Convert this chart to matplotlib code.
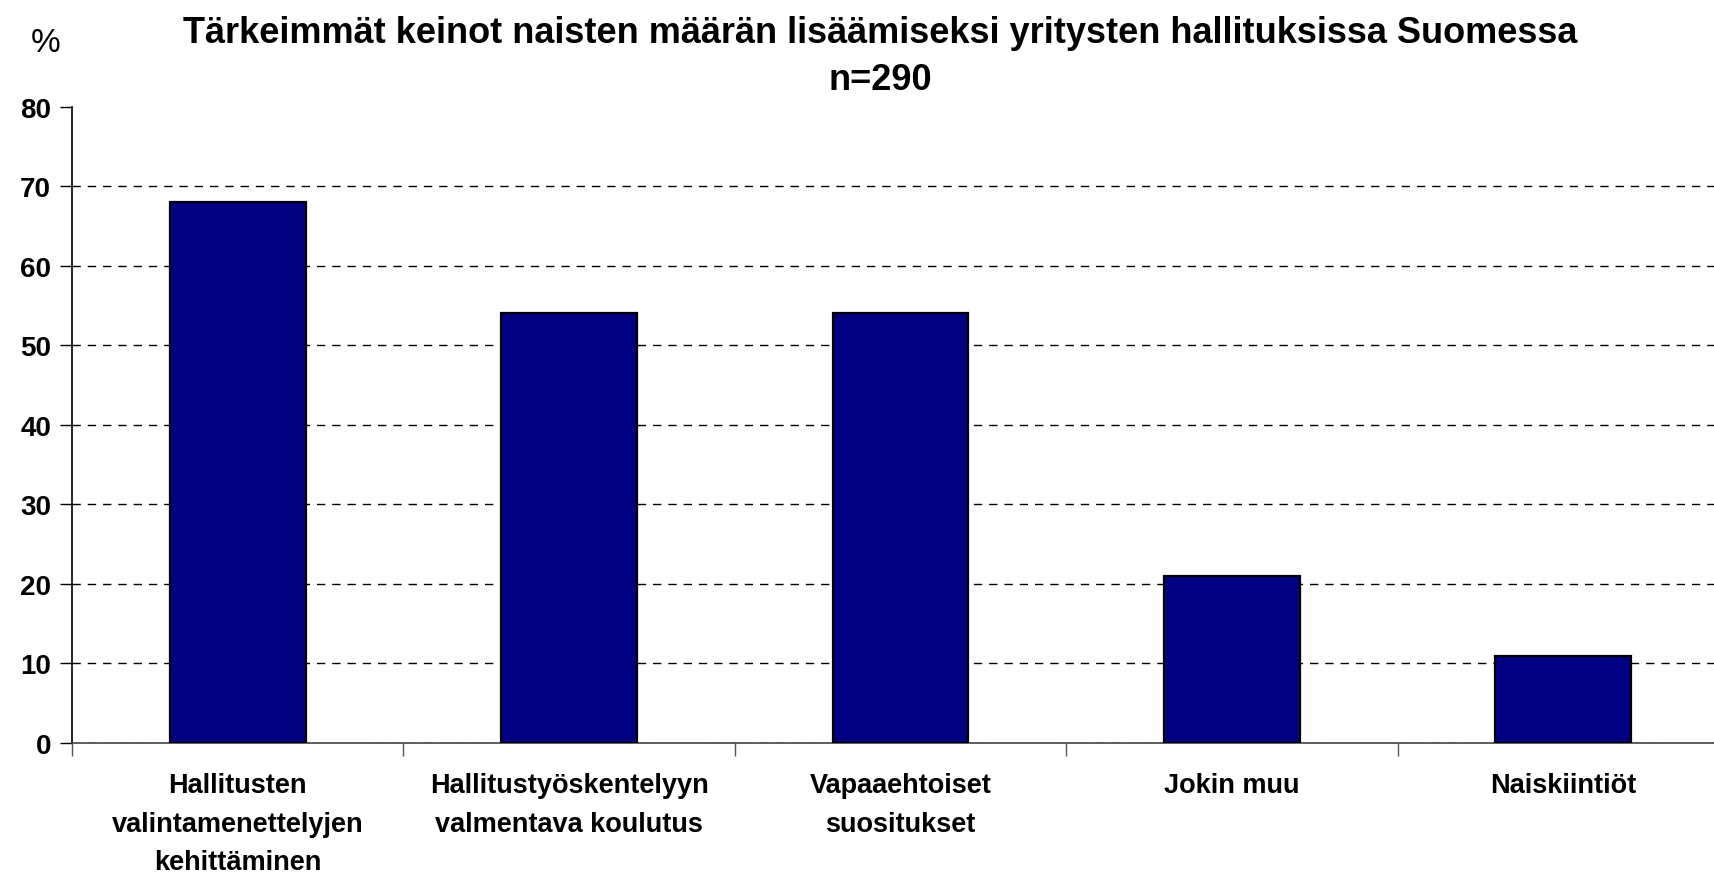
"""
Bar chart: most important means to increase the number of women on company boards in Finland.
"""

import matplotlib
matplotlib.use("Agg")
import matplotlib.pyplot as plt

# Data
categories = [
    "Hallitusten\nvalintamenettelyjen\nkehittäminen",
    "Hallitustyöskentelyyn\nvalmentava koulutus",
    "Vapaaehtoiset\nsuositukset",
    "Jokin muu",
    "Naiskiintiöt",
]
values = [68, 54, 54, 21, 11]
y_ticks = [0, 10, 20, 30, 40, 50, 60, 70, 80]

title_text = "Tärkeimmät keinot naisten määrän lisäämiseksi yritysten hallituksissa Suomessa\nn=290"

plt.rcParams['font.family'] = ['Liberation Sans', 'DejaVu Sans']


def main():
    W, H = 1715, 879
    fig = plt.figure(figsize=(W / 100, H / 100), dpi=100)
    fig.patch.set_facecolor("white")

    # axes runs slightly past the right edge, as in the original
    left, bottom, top, right = 72, 744, 107.7, 1729
    ax = fig.add_axes([left / W, (H - bottom) / H, (right - left) / W, (bottom - top) / H])

    x = [i + 0.5 for i in range(len(values))]
    ax.bar(x, values, width=0.41, color="#000080", edgecolor="black", linewidth=1.6, zorder=3)

    ax.set_xlim(0, len(values))
    ax.set_ylim(0, 80)

    # grid (no line at the top value)
    ax.set_yticks(y_ticks)
    ax.set_yticklabels([str(v) for v in y_ticks], fontsize=20, fontweight="bold")
    ax.yaxis.grid(True, linestyle=(0, (6, 5)), color="black", linewidth=1.0, zorder=1)
    ax.yaxis.get_gridlines()[-1].set_visible(False)
    ax.tick_params(axis="y", direction="out", length=9, width=1, pad=6)

    # category labels centred, tick marks at boundaries
    ax.set_xticks(x)
    ax.set_xticklabels(categories, fontsize=19.5, fontweight="bold", linespacing=1.62)
    ax.tick_params(axis="x", which="major", length=0, pad=21)
    ax.set_xticks(range(len(values) + 1), minor=True)
    ax.tick_params(axis="x", which="minor", direction="out", length=9, width=1, color="#555555")

    for side in ["top", "right"]:
        ax.spines[side].set_visible(False)
    ax.spines["left"].set_color("black")
    ax.spines["bottom"].set_color("#444444")
    ax.spines["left"].set_linewidth(1.2)
    ax.spines["bottom"].set_linewidth(1.2)

    fig.text(880 / W, 1 - 16 / H, title_text, ha="center", va="top",
             fontsize=26, fontweight="bold", linespacing=1.45)
    fig.text(46 / W, 1 - 44 / H, "%", ha="center", va="center", fontsize=24)

    fig.savefig("out.png", dpi=100)


if __name__ == "__main__":
    main()
